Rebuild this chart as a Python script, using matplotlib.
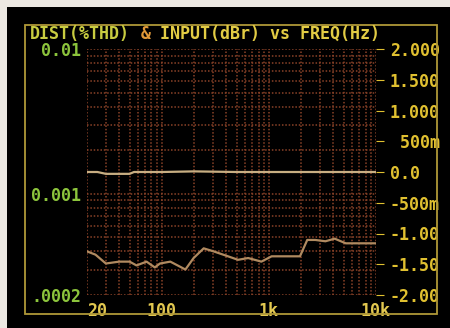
import matplotlib
matplotlib.use("Agg")
import matplotlib.pyplot as plt
from matplotlib.patches import Rectangle
from matplotlib.ticker import NullFormatter

# distortion (%THD), left axis
dist_freq = [20, 24, 30, 40, 50, 58, 72, 86, 96, 120, 166, 198, 246, 305, 415,
             515, 640, 850, 1060, 1750, 1950, 2280, 2710, 3370, 4110, 5220, 10000]
dist_thd = [0.00040, 0.00038, 0.00033, 0.00034, 0.00034, 0.00032, 0.00034, 0.00031,
            0.00033, 0.00034, 0.00030, 0.00036, 0.00042, 0.00040, 0.00037, 0.00035,
            0.00036, 0.00034, 0.00037, 0.00037, 0.00037, 0.00048, 0.00048, 0.00047,
            0.00049, 0.000455, 0.000455]

# input level (dBr), right axis
inp_freq = [20, 25, 30, 40, 50, 55, 100, 200, 500, 1000, 2000, 5000, 10000]
inp_dbr = [0.0, 0.0, -0.03, -0.03, -0.03, 0.0, 0.0, 0.01, 0.0, 0.0, 0.0, 0.0, 0.0]

x_ticks = [20, 100, 1000, 10000]
x_labels = ['20', '100', '1k', '10k']
left_ticks = [0.01, 0.001, 0.0002]
left_labels = ['0.01', '0.001', '.0002']
right_ticks = [2, 1.5, 1, 0.5, 0, -0.5, -1, -1.5, -2]
right_labels = ['2.000', '1.500', '1.000', ' 500m', '0.0', '-500m', '-1.00', '-1.50', '-2.00']

mono = dict(family='DejaVu Sans Mono', weight='bold', size=12)
grid_col = '#8a4228'

fig = plt.figure(figsize=(4.5, 3.28), dpi=100, facecolor='black')

# light edges of the photo
fig.add_artist(Rectangle((0, 1 - 7/328), 1, 7/328, transform=fig.transFigure,
                         color='#ece8e2', lw=0))
fig.add_artist(Rectangle((0, 0), 7/450, 1, transform=fig.transFigure,
                         color='#ece8e2', lw=0))
# screen frame
fig.add_artist(Rectangle((25/450, 14/328), 412/450, 289/328, transform=fig.transFigure,
                         fill=False, edgecolor='#b09838', lw=1.3))

ax = fig.add_axes([87/450, 33/328, 289/450, 246/328])
ax.set_facecolor('black')
ax.set_xscale('log')
ax.set_yscale('log')
ax.set_xlim(20, 10000)
ax.set_ylim(0.0002, 0.01)
ax.grid(which='both', color=grid_col, linestyle=(0, (1, 1.2)), lw=1.1)
for s in ax.spines.values():
    s.set_visible(False)
ax.set_xticks(x_ticks, x_labels)
ax.xaxis.set_minor_formatter(NullFormatter())
ax.set_yticks(left_ticks, left_labels)
ax.yaxis.set_minor_formatter(NullFormatter())
ax.tick_params(which='both', length=0)
ax.tick_params(axis='x', pad=5, colors='#e2c850')
ax.tick_params(axis='y', pad=4, colors='#8cc43c')
for t in ax.get_xticklabels() + ax.get_yticklabels():
    t.set(**mono)
ax.get_xticklabels()[0].set_ha('left')
ax.plot(dist_freq, dist_thd, color='#b08a60', lw=1.6)

ax2 = ax.twinx()
ax2.set_ylim(-2, 2)
for s in ax2.spines.values():
    s.set_visible(False)
ax2.set_yticks(right_ticks, right_labels)
ax2.tick_params(axis='y', direction='out', length=6, width=0.8, pad=4,
                colors='#e0c030')
for t in ax2.get_yticklabels():
    t.set(**mono)
ax2.plot(inp_freq, inp_dbr, color='#c8ae82', lw=1.6)

# title, in three colours
cw = 0.602 * 12 / 72 * 100 / 450
ty = 1 - 34/328
fig.text(30/450, ty, 'DIST(%THD)', color='#c8cc40', va='center', **mono)
fig.text(30/450 + 11*cw, ty, '&', color='#e09838', va='center', **mono)
fig.text(30/450 + 13*cw, ty, 'INPUT(dBr) vs FREQ(Hz)', color='#e2cc44', va='center', **mono)

fig.savefig('out.png', dpi=100, facecolor='black')
